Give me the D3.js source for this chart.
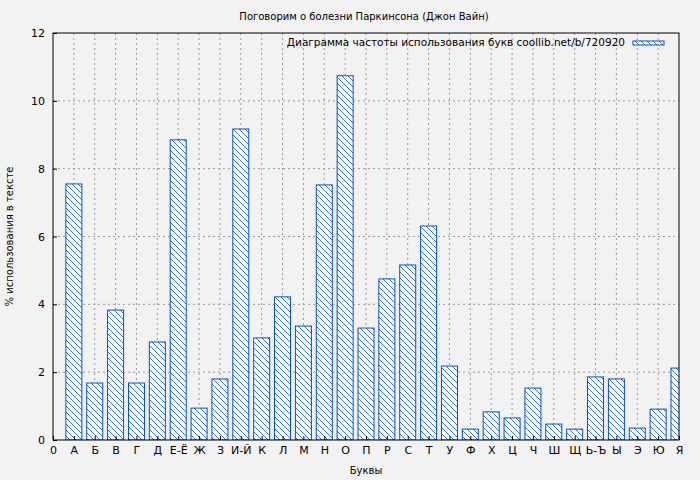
<!DOCTYPE html>
<html><head><meta charset="utf-8">
<script src="https://cdn.jsdelivr.net/npm/d3@7"></script>
<style>body{margin:0;background:#f2f2f2;font-family:"DejaVu Sans",sans-serif;}</style>
</head><body>
<script>
var labels = ["А","Б","В","Г","Д","Е-Ё","Ж","З","И-Й","К","Л","М","Н","О","П","Р","С","Т","У","Ф","Х","Ц","Ч","Ш","Щ","Ь-Ъ","Ы","Э","Ю","Я"];
var values = [7.55,1.68,3.83,1.68,2.89,8.85,0.94,1.80,9.17,3.01,4.22,3.36,7.52,10.74,3.30,4.75,5.16,6.31,2.18,0.32,0.83,0.65,1.53,0.47,0.32,1.86,1.80,0.35,0.91,2.12];
var yTicks = [0,2,4,6,8,10,12];

var W = 700, H = 480, m = {top: 33, right: 21, bottom: 40, left: 53};
var w = W - m.left - m.right, h = H - m.top - m.bottom;
var svg = d3.select("body").append("svg").attr("width", W).attr("height", H)
    .style("font-family", "DejaVu Sans").style("font-size", "11px");

var defs = svg.append("defs");
defs.append("pattern").attr("id", "hatch").attr("patternUnits", "userSpaceOnUse")
    .attr("width", 6).attr("height", 6)
    .call(function (p) {
        p.append("rect").attr("width", 6).attr("height", 6).attr("fill", "#fff");
        p.append("path").attr("d", "M-1,-1L7,7M-1,5L1,7M5,-1L7,1")
            .attr("stroke", "#0050c8").attr("stroke-width", 0.8);
    });
defs.append("clipPath").attr("id", "clip").append("rect").attr("width", w).attr("height", h);

var g = svg.append("g").attr("transform", "translate(" + m.left + "," + m.top + ")");
var x = d3.scaleLinear().domain([0, 30]).range([0, w]);
var y = d3.scaleLinear().domain([0, 12]).range([h, 0]);

g.append("rect").attr("width", w).attr("height", h).attr("fill", "#f2f2f2");

// grid
g.selectAll(".gx").data(d3.range(1, 30)).enter().append("line")
    .attr("x1", x).attr("x2", x).attr("y1", 0).attr("y2", h)
    .attr("stroke", "#999").attr("stroke-dasharray", "2,3");
g.selectAll(".gy").data(yTicks.slice(1, -1)).enter().append("line")
    .attr("x1", 0).attr("x2", w).attr("y1", y).attr("y2", y)
    .attr("stroke", "#999").attr("stroke-dasharray", "2,3");

var bw = 16;
g.append("g").attr("clip-path", "url(#clip)").selectAll("rect").data(values).enter().append("rect")
    .attr("x", function (d, i) { return x(i + 1) - bw / 2; })
    .attr("y", function (d) { return y(d); })
    .attr("width", bw)
    .attr("height", function (d) { return h - y(d); })
    .attr("fill", "url(#hatch)").attr("stroke", "#0050c8").attr("stroke-width", 1);

g.append("rect").attr("width", w).attr("height", h).attr("fill", "none").attr("stroke", "#000");

var xa = g.append("g").attr("transform", "translate(0," + h + ")")
    .call(d3.axisBottom(x).tickValues(d3.range(0, 31)).tickSize(-4).tickPadding(6)
        .tickFormat(function (d) { return d === 0 ? "0" : labels[d - 1]; }));
var ya = g.append("g")
    .call(d3.axisLeft(y).tickValues(yTicks).tickSize(-4).tickPadding(8));
[xa, ya].forEach(function (a) {
    a.select(".domain").remove();
    a.selectAll("text").attr("fill", "#000").style("font-size", "11px").style("font-family", "DejaVu Sans");
});

svg.append("text").attr("x", 364).attr("y", 20).attr("text-anchor", "middle")
    .style("font-size", "10px").text("Поговорим о болезни Паркинсона (Джон Вайн)");
svg.append("text").attr("x", 366).attr("y", 474).attr("text-anchor", "middle")
    .style("font-size", "10px").text("Буквы");
svg.append("text").attr("transform", "translate(13," + (m.top + h / 2) + ") rotate(-90)")
    .attr("text-anchor", "middle").style("font-size", "10px").text("% использования в тексте");

// legend
svg.append("text").attr("x", 625).attr("y", 46).attr("text-anchor", "end")
    .style("font-size", "10.5px").text("Диаграмма частоты использования букв coollib.net/b/720920");
svg.append("rect").attr("x", 633).attr("y", 41).attr("width", 31).attr("height", 4)
    .attr("fill", "url(#hatch)").attr("stroke", "#0050c8");
</script>
</body></html>
